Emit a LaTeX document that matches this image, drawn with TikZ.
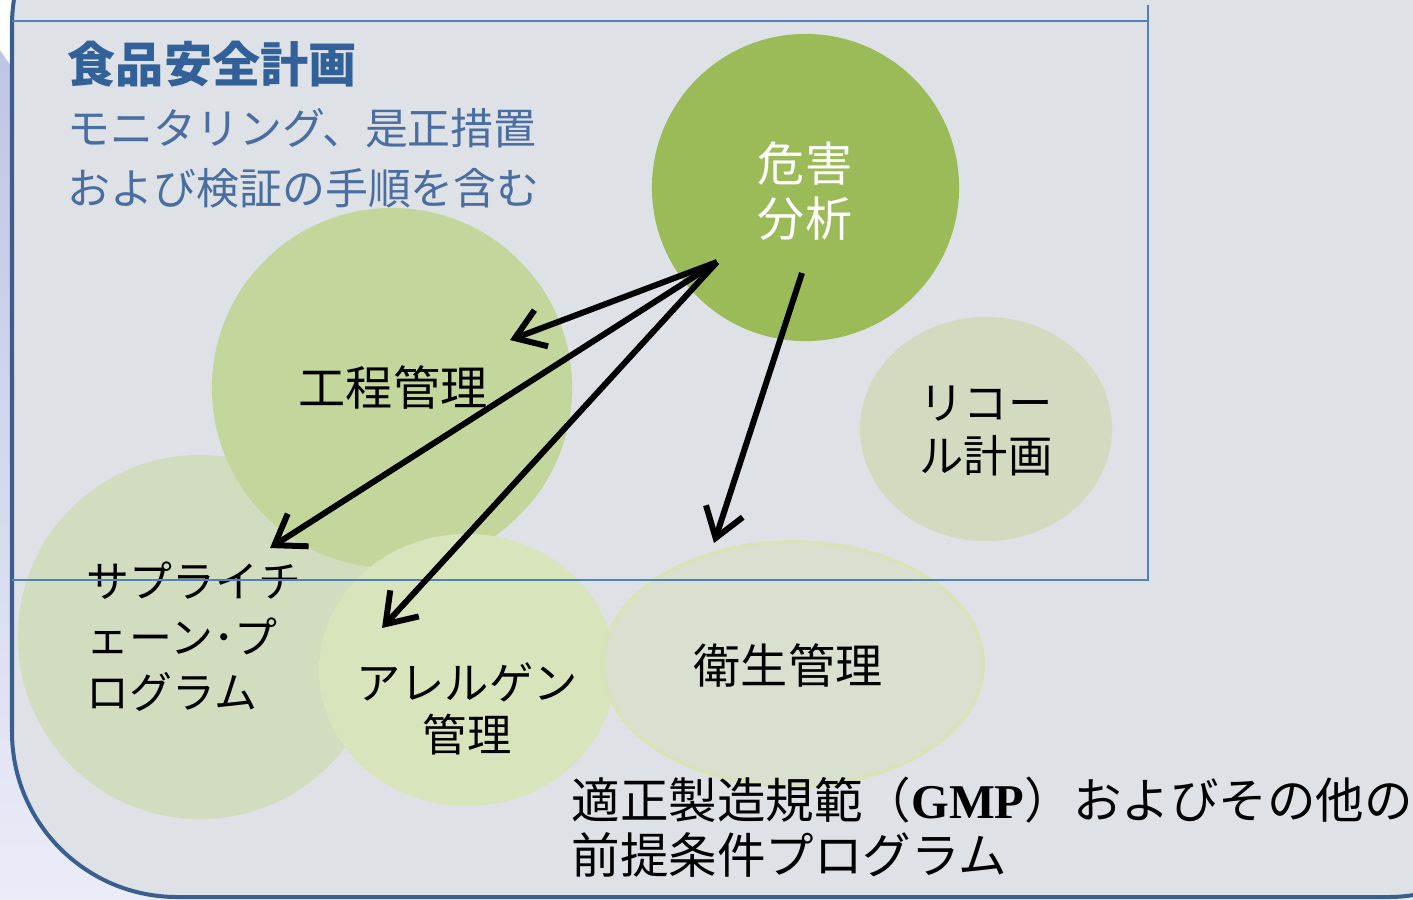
\documentclass[tikz,border=0pt]{standalone}
\usepackage{fontspec}
\setmainfont{Noto Sans CJK JP}
\newfontfamily\serifL{Liberation Serif}
\usetikzlibrary{shapes.geometric,arrows.meta}
\definecolor{lavtop}{RGB}{190,194,227}
\definecolor{lavbot}{RGB}{234,236,248}
\definecolor{panel}{RGB}{222,225,230}
\definecolor{border}{RGB}{58,95,143}
\definecolor{framebl}{RGB}{79,129,189}
\definecolor{titleblue}{RGB}{50,96,152}
\definecolor{subblue}{RGB}{74,110,160}
\definecolor{hazardc}{RGB}{155,187,89}
\definecolor{processc}{RGB}{195,214,155}
\definecolor{supplyc}{RGB}{210,220,191}
\definecolor{allergenc}{RGB}{216,228,188}
\definecolor{recallc}{RGB}{210,219,192}
\definecolor{sanitc}{RGB}{218,224,207}
\definecolor{sanitline}{RGB}{214,228,183}
\tikzset{
  blob/.style={circle, inner sep=0pt},
  oval/.style={ellipse, inner sep=0pt},
  lbl/.style={align=center, inner sep=0pt, font=\fontsize{13.4pt}{15.6pt}\selectfont},
  arr/.style={line width=1.7pt, -{Straight Barb[length=8pt,width=11pt,line width=1.7pt]}},
}
\begin{document}
\begin{tikzpicture}[x=0.01cm,y=-0.01cm]
\useasboundingbox (0,0) rectangle (1413,899);
\clip (0,0) rectangle (1413,899);
\shade[top color=lavtop, bottom color=lavbot] (0,0) rectangle (1413,899);
\fill[white] (0,0) -- (14,0) -- (14,70) -- (0,50) -- cycle;
\draw[fill=panel, draw=border, line width=0.04cm, rounded corners=1.65cm] (12,-140) rectangle (1553,897);

% circles
\node[blob, fill=supplyc, minimum size=3.64cm] (supply) at (200,637) {};
\node[blob, fill=processc, minimum size=3.6cm] (process) at (392,388) {};
\node[oval, fill=allergenc, minimum width=2.96cm, minimum height=2.72cm] (allergen) at (467,670) {};
\node[blob, fill=hazardc, minimum size=3.07cm] (hazard) at (805.5,187.5) {};
\node[oval, fill=recallc, minimum width=2.52cm, minimum height=2.24cm] (recall) at (986,429) {};
\node[oval, fill=sanitc, draw=sanitline, line width=0.035cm, minimum width=3.8cm, minimum height=2.44cm] (sanit) at (793,664) {};

% labels
\node[lbl, text=white] (hazardlbl) at (805,191) {危害\\分析};
\node[lbl] (processlbl) at (393,387) {工程管理};
\node[lbl, align=left, font=\fontsize{12.2pt}{15.8pt}\selectfont, anchor=west] (supplylbl) at (86,637) {サプライチ\\ェーン･プ\\ログラム};
\node[lbl, font=\fontsize{12.6pt}{14.8pt}\selectfont] (allergenlbl) at (467,709) {アレルゲン\\管理};
\node[lbl] (sanitlbl) at (788,665) {衛生管理};
\node[lbl, font=\fontsize{12.6pt}{15pt}\selectfont] (recalllbl) at (986,431) {リコー\\ル計画};

% titles
\node[anchor=west, inner sep=0pt, text=titleblue, font=\fontsize{13.7pt}{16pt}\selectfont\bfseries] (title) at (67,64) {食品安全計画};
\node[anchor=west, align=left, inner sep=0pt, text=subblue, font=\fontsize{12.2pt}{17pt}\selectfont] (subtitle) at (67,158) {モニタリング、是正措置\\および検証の手順を含む};
\node[anchor=west, align=left, inner sep=0pt, font=\fontsize{13.8pt}{15.6pt}\selectfont] (gmp) at (571,827) {適正製造規範（{\serifL\bfseries GMP}）およびその他の\\前提条件プログラム};

% frame
\draw[framebl, line width=0.02cm] (12,21) -- (1148,21) (1148,5) -- (1148,580) -- (12,580);

% arrows
\coordinate (h1) at (717,262);
\coordinate (h2) at (802,273);
\coordinate (e1) at (510,340);
\coordinate (e2) at (270,548);
\coordinate (e3) at (382,628);
\coordinate (e4) at (714,543);
\draw[arr] (h1) -- (e1);
\draw[arr] (h1) -- (e2);
\draw[arr] (h1) -- (e3);
\draw[arr] (h2) -- (e4);
\end{tikzpicture}
\end{document}
